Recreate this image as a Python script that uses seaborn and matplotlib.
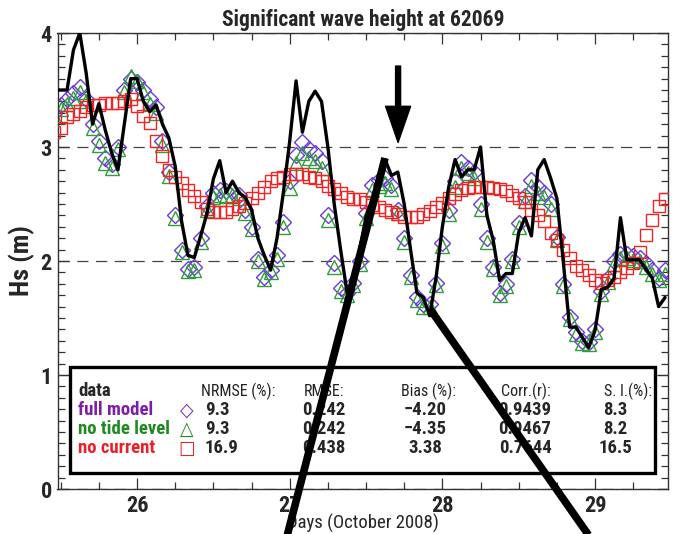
import numpy as np
import pandas as pd
import matplotlib
matplotlib.use("Agg")
import matplotlib.pyplot as plt
import seaborn as sns
from matplotlib.lines import Line2D
from matplotlib.patches import Rectangle
from matplotlib.ticker import MultipleLocator
from matplotlib import font_manager

# ---------------- data ----------------
start_day = 25 + 11 / 24          # 25 Oct 2008, 11:00
hours = np.arange(97)             # hourly samples
time_days = start_day + hours / 24

obs_hs = [3.5, 3.5, 3.5, 3.85, 4.0, 3.65, 3.2, 3.38, 3.15, 2.95,
          2.8, 3.2, 3.6, 3.6, 3.4, 3.31, 3.37, 3.2, 3.08, 2.83,
          2.35, 2.05, 2.03, 2.22, 2.42, 2.72, 2.88, 2.6, 2.7, 2.6,
          2.56, 2.45, 2.2, 2.05, 1.92, 2.2, 2.6, 3.05, 3.58, 3.13,
          3.4, 3.49, 3.4, 3.0, 2.5, 2.1, 1.73, 1.8, 2.1, 2.39,
          2.55, 2.75, 2.89, 2.75, 2.78, 2.5, 2.1, 1.72, 1.68, 1.52,
          1.85, 2.3, 2.65, 2.89, 2.74, 2.8, 2.8, 3.0, 2.4, 2.18,
          1.83, 1.89, 1.89, 2.25, 2.38, 2.22, 2.8, 2.89, 2.73, 2.55,
          2.0, 1.42, 1.42, 1.33, 1.24, 1.39, 1.75, 1.77, 1.85, 2.38,
          2.01, 2.01, 2.01, 1.93, 1.85, 1.6, 1.68]

full_model_hs = [3.30, 3.37, 3.42, 3.47, 3.53, 3.42, 3.20, 3.05, 2.90, 2.85,
                 3.00, 3.50, 3.60, 3.57, 3.50, 3.42, 3.35, 3.05, 2.78, 2.40,
                 2.10, 1.93, 1.95, 2.20, 2.48, 2.60, 2.62, 2.61, 2.61, 2.58,
                 2.45, 2.30, 2.02, 1.86, 1.92, 2.05, 2.34, 2.70, 2.93, 3.04,
                 2.98, 2.95, 2.88, 2.40, 1.98, 1.76, 1.72, 1.81, 2.00, 2.42,
                 2.67, 2.71, 2.73, 2.67, 2.45, 2.20, 1.88, 1.68, 1.62, 1.62,
                 1.81, 2.16, 2.45, 2.70, 2.87, 2.82, 2.78, 2.50, 2.20, 1.95,
                 1.72, 1.80, 2.02, 2.33, 2.57, 2.71, 2.65, 2.60, 2.50, 2.21,
                 1.80, 1.51, 1.38, 1.30, 1.29, 1.40, 1.74, 1.85, 2.00, 2.06,
                 2.06, 2.04, 2.03, 1.98, 1.92, 1.85, 1.92]

no_tide_hs = [3.27, 3.33, 3.38, 3.43, 3.48, 3.40, 3.17, 3.02, 2.86, 2.82,
              2.98, 3.48, 3.62, 3.58, 3.48, 3.38, 3.30, 3.02, 2.75, 2.38,
              2.08, 1.91, 1.92, 2.17, 2.45, 2.56, 2.58, 2.57, 2.58, 2.55,
              2.42, 2.28, 2.00, 1.84, 1.90, 2.02, 2.30, 2.64, 2.86, 2.95,
              2.90, 2.88, 2.82, 2.36, 1.95, 1.74, 1.70, 1.79, 1.97, 2.38,
              2.62, 2.66, 2.68, 2.63, 2.42, 2.17, 1.86, 1.66, 1.60, 1.60,
              1.79, 2.13, 2.41, 2.65, 2.82, 2.77, 2.73, 2.46, 2.17, 1.93,
              1.70, 1.78, 2.00, 2.30, 2.53, 2.66, 2.60, 2.56, 2.46, 2.18,
              1.78, 1.49, 1.36, 1.28, 1.27, 1.38, 1.71, 1.82, 1.97, 2.03,
              2.03, 2.01, 2.00, 1.95, 1.89, 1.83, 1.89]

no_current_hs = [3.13, 3.17, 3.26, 3.29, 3.32, 3.35, 3.37, 3.37, 3.39, 3.39,
                 3.39, 3.40, 3.42, 3.36, 3.27, 3.21, 3.05, 2.92, 2.80, 2.74,
                 2.68, 2.62, 2.57, 2.52, 2.46, 2.43, 2.43, 2.43, 2.46, 2.48,
                 2.51, 2.55, 2.60, 2.65, 2.70, 2.73, 2.74, 2.76, 2.76, 2.76,
                 2.74, 2.73, 2.70, 2.66, 2.63, 2.60, 2.56, 2.54, 2.54, 2.52,
                 2.49, 2.47, 2.45, 2.43, 2.41, 2.39, 2.39, 2.39, 2.41, 2.44,
                 2.47, 2.51, 2.55, 2.59, 2.62, 2.64, 2.65, 2.65, 2.65, 2.64,
                 2.63, 2.61, 2.58, 2.55, 2.52, 2.45, 2.40, 2.35, 2.25, 2.18,
                 2.10, 2.03, 1.96, 1.92, 1.88, 1.83, 1.81, 1.83, 1.86, 1.90,
                 1.94, 1.98, 2.08, 2.23, 2.36, 2.48, 2.54]

x_ticks = [26, 27, 28, 29]
y_ticks = [0, 1, 2, 3, 4]

stats_header = ["NRMSE (%):", "RMSE:", "Bias (%):", "Corr.(r):", "S. I.(%):"]
run_names = ["full model", "no tide level", "no current"]
run_symbols = ["\u25C7", "\u25B3", "\u25A1"]
nrmse = ["9.3", "9.3", "16.9"]
rmse = ["0.242", "0.242", "0.438"]
bias = ["\u22124.20", "\u22124.35", "3.38"]
corr = ["0.9439", "0.9467", "0.7644"]
si = ["8.3", "8.2", "16.5"]

df = pd.DataFrame({"t": time_days, "obs": obs_hs, "full": full_model_hs,
                   "notide": no_tide_hs, "nocur": no_current_hs})

# ---------------- style ----------------
sns.set_style("ticks")
names = {f.name for f in font_manager.fontManager.ttflist}
narrow = [n for n in ["Liberation Sans Narrow", "Roboto Condensed",
                      "Open Sans Condensed", "Noto Sans Condensed"] if n in names]
FONT = narrow + ["DejaVu Sans"]
plt.rcParams["font.family"] = FONT
plt.rcParams["font.stretch"] = "condensed"

W, H = 673, 534
fig = plt.figure(figsize=(W / 100, H / 100), dpi=100)
ax = fig.add_axes([57.5 / W, 1 - 489 / H, (668 - 57.5) / W, (489 - 33) / H])

def P(x, y):
    return (x / W, 1 - y / H)

c_full, c_tide, c_cur = "#6a3ad6", "#2e9e3a", "#f02424"

sns.lineplot(data=df, x="t", y="full", ax=ax, linestyle="", marker="D",
             markersize=8.5, markerfacecolor="none", markeredgecolor=c_full,
             markeredgewidth=1.0, zorder=2)
sns.lineplot(data=df, x="t", y="notide", ax=ax, linestyle="", marker="^",
             markersize=9.5, markerfacecolor="none", markeredgecolor=c_tide,
             markeredgewidth=1.0, zorder=2)
sns.lineplot(data=df, x="t", y="nocur", ax=ax, linestyle="", marker="s",
             markersize=9, markerfacecolor="none", markeredgecolor=c_cur,
             markeredgewidth=1.0, zorder=3)
sns.lineplot(data=df, x="t", y="obs", ax=ax, color="black", linewidth=2.4,
             zorder=4)

ax.set_xlim(25.479, 29.478)
ax.set_ylim(0, 4)
ax.set_xticks(x_ticks)
ax.set_xticklabels([str(v) for v in x_ticks], fontweight="bold", fontsize=16)
ax.set_yticks(y_ticks)
ax.set_yticklabels([str(v) for v in y_ticks], fontweight="bold", fontsize=16)
ax.xaxis.set_minor_locator(MultipleLocator(0.25))
ax.yaxis.set_minor_locator(MultipleLocator(0.1))
ax.tick_params(which="both", direction="in", top=True, right=True,
               width=0.9, color="#333333")
ax.tick_params(which="major", length=8, pad=4)
ax.tick_params(which="minor", length=5)
ax.grid(axis="y", which="major", linestyle=(0, (9, 6)), color="#444444",
        linewidth=0.9)
for s in ax.spines.values():
    s.set_linewidth(1.0)
    s.set_color("#333333")

ax.set_xlabel("Days (October 2008)", fontsize=13.5, labelpad=-2)
ax.set_ylabel("Hs (m)", fontsize=19, fontweight="bold", labelpad=4)
ax.set_title("Significant wave height at 62069", fontsize=15.5,
             fontweight="bold", pad=5)

# ---------------- statistics box ----------------
x0, y0 = P(70, 473)
x1, y1 = P(655, 367)
fig.add_artist(Rectangle((x0, y0), x1 - x0, y1 - y0, transform=fig.transFigure,
                         facecolor="white", edgecolor="black", linewidth=2.4,
                         zorder=5))

row_y = [391, 410, 429, 448]
name_colors = ["#7d1fa6", "#1f8a1f", "#e8202a"]
fs_tab = 13.5
fig.text(*P(78, row_y[0]), "data", fontsize=fs_tab, fontweight="bold",
         va="center", ha="left", zorder=6)
for k, name in enumerate(run_names):
    fig.text(*P(78, row_y[k + 1]), name, fontsize=fs_tab, fontweight="bold",
             color=name_colors[k], va="center", ha="left", zorder=6)
    fig.text(*P(187, row_y[k + 1]), run_symbols[k], fontsize=14,
             color=name_colors[k], va="center", ha="center", zorder=6,
             family=["DejaVu Sans"])

hdr_x = [238, 324, 429, 526, 628]
for hx, h in zip(hdr_x, stats_header):
    fig.text(*P(hx, row_y[0]), h, fontsize=11.5, color="#222222",
             va="center", ha="center", zorder=6)

for k in range(3):
    y = row_y[k + 1]
    fig.text(*P(205, y), nrmse[k], fontsize=fs_tab, fontweight="bold",
             va="center", ha="left", zorder=6)
    fig.text(*P(324, y), rmse[k], fontsize=fs_tab, fontweight="bold",
             va="center", ha="center", zorder=6)
    fig.text(*P(425, y), bias[k], fontsize=fs_tab, fontweight="bold",
             va="center", ha="center", zorder=6)
    fig.text(*P(525, y), corr[k], fontsize=fs_tab, fontweight="bold",
             va="center", ha="center", zorder=6)
    fig.text(*P(615, y), si[k], fontsize=fs_tab, fontweight="bold",
             va="center", ha="center", zorder=6)

# ---------------- annotations ----------------
ax.annotate("", xy=(27.71, 3.04), xytext=(27.71, 3.71),
            arrowprops=dict(width=3.6, headwidth=18, headlength=26,
                            color="black"), zorder=7)
for (xa, ya), (xb, yb) in [((286, 540), (385, 158)), ((430, 309), (592, 540))]:
    fig.add_artist(Line2D([xa / W, xb / W], [1 - ya / H, 1 - yb / H],
                          transform=fig.transFigure, color="black",
                          linewidth=5.5, solid_capstyle="butt", zorder=8))

fig.savefig("out.png", dpi=100)
